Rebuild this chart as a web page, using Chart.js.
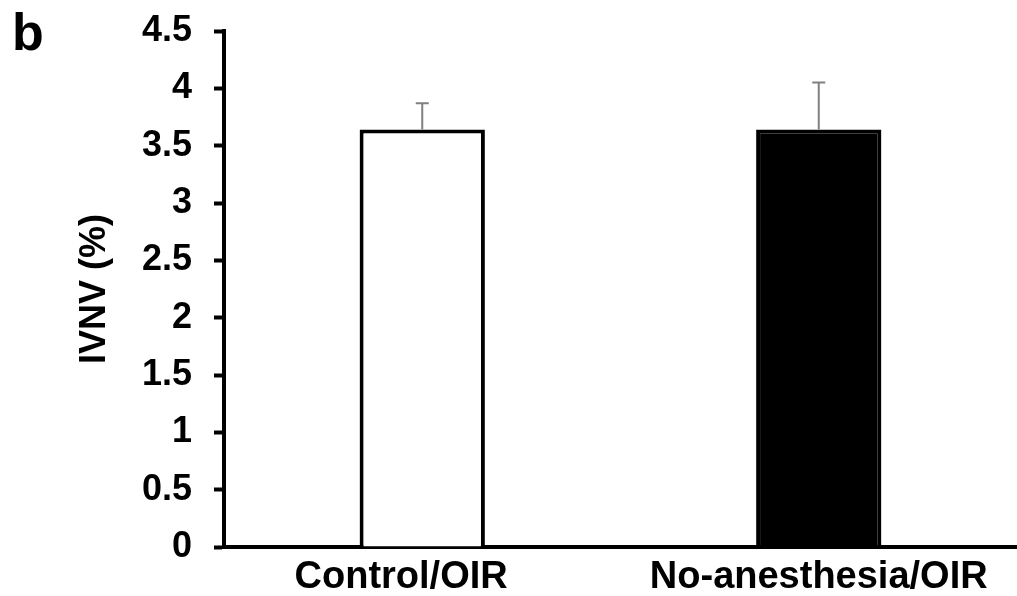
<!DOCTYPE html>
<html>
<head>
<meta charset="utf-8">
<script src="https://cdn.jsdelivr.net/npm/chart.js@4.4.1/dist/chart.umd.min.js"></script>
<style>
  html, body { margin: 0; padding: 0; background: #fff; }
  #wrap { width: 1017px; height: 596px; position: relative; }
</style>
</head>
<body>
<div id="wrap"><canvas id="ivnvChart" width="1017" height="596"></canvas></div>
<script>
const grupos = ['Control/OIR', 'No-anesthesia/OIR'];
const ivnv = [3.64, 3.64];
const errores = [0.23, 0.41];
const colores = ['#ffffff', '#000000'];
const ticksY = [0, 0.5, 1, 1.5, 2, 2.5, 3, 3.5, 4, 4.5];
const letraPanel = 'b';
const tituloY = 'IVNV (%)';

const fuente = "'Liberation Sans', Arial, sans-serif";

const barrasError = {
  id: 'barrasError',
  afterDatasetsDraw(chart) {
    const ctx = chart.ctx;
    const y = chart.scales.y;
    const meta = chart.getDatasetMeta(0);
    ctx.save();
    ctx.strokeStyle = '#808080';
    ctx.lineWidth = 2;
    meta.data.forEach((barra, i) => {
      const x = barra.x;
      const y0 = y.getPixelForValue(ivnv[i]);
      const y1 = y.getPixelForValue(ivnv[i] + errores[i]);
      ctx.beginPath();
      ctx.moveTo(x, y0);
      ctx.lineTo(x, y1);
      ctx.moveTo(x - 6.5, y1);
      ctx.lineTo(x + 6.5, y1);
      ctx.stroke();
    });
    ctx.restore();
  }
};

const letra = {
  id: 'letra',
  afterDraw(chart) {
    const ctx = chart.ctx;
    ctx.save();
    ctx.fillStyle = '#000';
    ctx.font = 'bold 52px ' + fuente;
    ctx.textBaseline = 'alphabetic';
    ctx.fillText(letraPanel, 12, 50);
    ctx.restore();
  }
};

const ctx = document.getElementById('ivnvChart').getContext('2d');
const ivnvChart = new Chart(ctx, {
  type: 'bar',
  data: {
    labels: grupos,
    datasets: [{
      data: ivnv,
      backgroundColor: colores,
      borderColor: '#000000',
      borderWidth: 4,
      borderSkipped: 'start',
      barPercentage: 0.316,
      categoryPercentage: 1
    }]
  },
  options: {
    responsive: false,
    animation: false,
    devicePixelRatio: 1,
    layout: { padding: { top: 31, right: 0, bottom: 0, left: 0 } },
    plugins: {
      legend: { display: false },
      tooltip: { enabled: false }
    },
    scales: {
      x: {
        grid: { display: false },
        border: { display: true, color: '#000', width: 4 },
        ticks: {
          color: '#000',
          padding: 0,
          maxRotation: 0,
          font: { family: fuente, size: 38, weight: 'bold' },
          // en el original la primera etiqueta queda algo a la izquierda
          callback: (v, i) => i === 0 ? grupos[i] + '    ' : grupos[i]
        },
        afterFit(scale) {
          scale.height = 49;
          scale.paddingLeft = 0;
          scale.paddingRight = 0;
        }
      },
      y: {
        min: 0,
        max: 4.5,
        afterBuildTicks(scale) { scale.ticks = ticksY.map(v => ({ value: v })); },
        grid: {
          drawOnChartArea: false,
          drawTicks: true,
          tickLength: 10,
          tickWidth: 4,
          tickColor: '#000'
        },
        border: { display: true, color: '#000', width: 4 },
        ticks: {
          color: '#000',
          padding: 22,
          font: { family: fuente, size: 36, weight: 'bold' },
          callback: v => String(v)
        },
        title: {
          display: true,
          text: tituloY,
          color: '#000',
          padding: { top: 73, bottom: 0 },
          font: { family: fuente, size: 36, weight: 'bold' }
        },
        afterFit(scale) {
          scale.width = 224;
          scale.paddingTop = 0;
          scale.paddingBottom = 0;
        }
      }
    }
  },
  plugins: [barrasError, letra]
});
</script>
</body>
</html>
